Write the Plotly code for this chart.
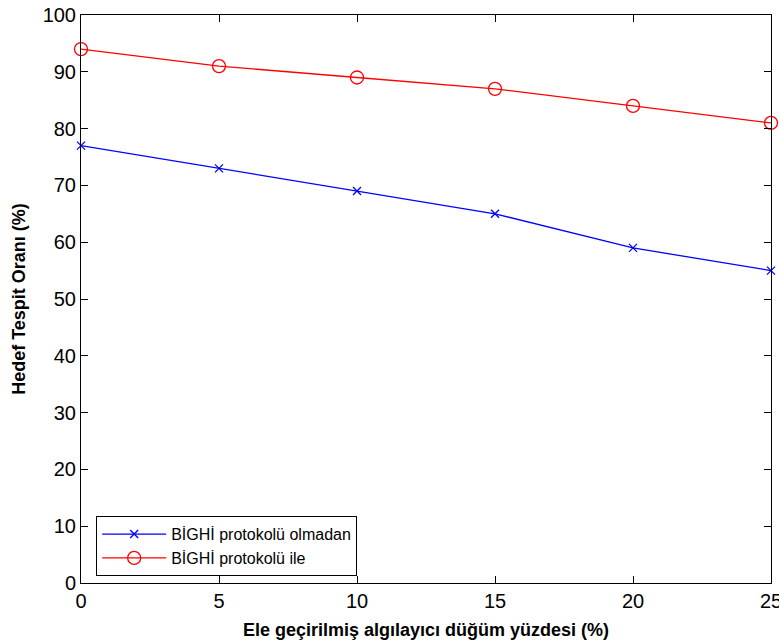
import plotly.graph_objects as go

x_vals = [0, 5, 10, 15, 20, 25]
without_protocol = [77, 73, 69, 65, 59, 55]
with_protocol = [94, 91, 89, 87, 84, 81]
series_names = ["BİGHİ protokolü olmadan", "BİGHİ protokolü ile"]
x_title = "Ele geçirilmiş algılayıcı düğüm yüzdesi (%)"
y_title = "Hedef Tespit Oranı (%)"

tick_font = dict(family="Liberation Sans Narrow, Arial Narrow, Liberation Sans, Arial", size=20, color="black")
title_font = dict(family="Liberation Sans, Arial, sans-serif", size=18, color="black")

fig = go.Figure()
fig.add_trace(go.Scatter(
    x=x_vals, y=without_protocol, name=series_names[0], mode="lines+markers",
    line=dict(color="#0000ff", width=1.3),
    marker=dict(symbol="x-thin-open", size=8, color="#0000ff", line=dict(color="#0000ff", width=1.3)),
    cliponaxis=False,
))
fig.add_trace(go.Scatter(
    x=x_vals, y=with_protocol, name=series_names[1], mode="lines+markers",
    line=dict(color="#ff0000", width=1.3),
    marker=dict(symbol="circle-open", size=13, color="#ff0000", line=dict(color="#ff0000", width=1.3)),
    cliponaxis=False,
))

axis_common = dict(
    showline=True, linecolor="black", linewidth=1, mirror="ticks",
    ticks="inside", ticklen=7, tickwidth=1, tickcolor="black",
    showgrid=False, zeroline=False, tickfont=tick_font,
    ticklabeloverflow="allow", automargin=False,
)

fig.update_layout(
    width=779, height=644,
    margin=dict(l=81, r=8, t=15, b=61),
    paper_bgcolor="white", plot_bgcolor="white",
    xaxis=dict(range=[0, 25], tickmode="array", tickvals=x_vals,
               title=dict(text="<b>" + x_title + "</b>", font=title_font, standoff=12),
               **axis_common),
    yaxis=dict(range=[0, 100], tickmode="array", tickvals=list(range(0, 101, 10)),
               title=dict(text="<b>" + y_title + "</b>", font=title_font, standoff=12),
               **axis_common),
    legend=dict(x=0.022, y=0.012, xanchor="left", yanchor="bottom",
                bordercolor="black", borderwidth=1, bgcolor="white",
                font=dict(family="Liberation Sans, Arial, sans-serif", size=16, color="black"),
                itemwidth=64, tracegroupgap=2),
    showlegend=True,
)

fig.write_html(
    "out.html", config={"displayModeBar": False},
    post_script=("document.body.style.margin='0px';"
                 "document.body.style.overflow='hidden';"
                 "document.documentElement.style.overflow='hidden';"),
)
